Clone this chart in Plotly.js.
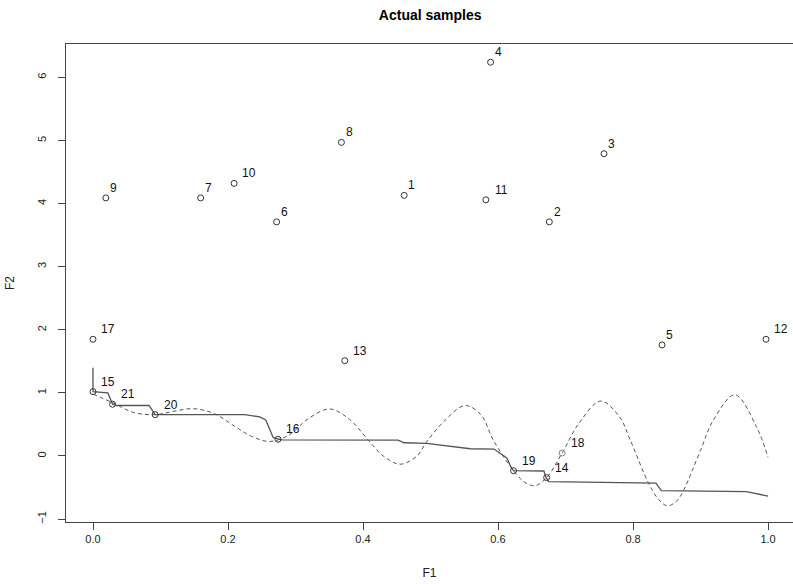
<!DOCTYPE html>
<html>
<head>
<meta charset="utf-8">
<script src="https://cdn.plot.ly/plotly-3.0.1.min.js"></script>
<style>html,body{margin:0;padding:0;background:#fff;overflow:hidden;}#chart{width:793px;height:584px;}</style>
</head>
<body>
<div id="chart"></div>
<script>
// Sample points
const sampleIds = [1,2,3,4,5,6,7,8,9,10,11,12,13,14,15,16,17,18,19,20,21];
const sampleF1 = [0.461,0.676,0.757,0.589,0.843,0.272,0.1595,0.368,0.019,0.209,0.582,0.997,0.373,0.672,0.0,0.274,0.0,0.695,0.623,0.092,0.029];
const sampleF2 = [4.13,3.71,4.79,6.24,1.76,3.71,4.09,4.97,4.09,4.32,4.06,1.85,1.51,-0.343,1.02,0.265,1.85,0.047,-0.233,0.655,0.82];

// Solid (front / step-like) line
const solidX = [0,0,0.022,0.029,0.035,0.083,0.092,0.225,0.247,0.256,0.267,0.274,0.28,0.452,0.461,0.494,0.559,0.594,0.603,0.613,0.62,0.623,0.668,0.671,0.675,0.834,0.842,0.968,1.0];
const solidY = [1.40,1.02,1.00,0.82,0.80,0.80,0.655,0.655,0.62,0.57,0.29,0.265,0.255,0.25,0.21,0.20,0.115,0.11,0.05,-0.03,-0.19,-0.233,-0.238,-0.34,-0.405,-0.43,-0.55,-0.565,-0.635];

// Dashed (fitted) curve
const dashX = [0,0.03,0.06,0.092,0.12,0.149,0.18,0.21,0.235,0.262,0.29,0.32,0.351,0.38,0.408,0.43,0.455,0.48,0.494,0.52,0.551,0.575,0.593,0.623,0.64,0.655,0.672,0.695,0.72,0.752,0.78,0.796,0.823,0.838,0.851,0.865,0.875,0.90,0.919,0.951,0.983,1.0];
const dashY = [0.98,0.84,0.69,0.655,0.71,0.75,0.67,0.47,0.31,0.23,0.33,0.60,0.745,0.58,0.25,0.0,-0.13,0.0,0.22,0.55,0.80,0.65,0.25,-0.233,-0.42,-0.47,-0.343,0.047,0.52,0.87,0.62,0.25,-0.43,-0.69,-0.79,-0.71,-0.54,0.09,0.57,0.97,0.46,-0.02];

const xTicks = [0,0.2,0.4,0.6,0.8,1.0];
const xTickText = ['0.0','0.2','0.4','0.6','0.8','1.0'];
const yTicks = [-1,0,1,2,3,4,5,6];

const FONT = 'Liberation Sans, Arial, Helvetica, sans-serif';
const AX = '#444';

const traces = [
  {x: dashX, y: dashY, mode: 'lines', type: 'scatter', line: {color: '#555', width: 1, dash: '4px,3px', shape: 'spline', smoothing: 1}, hoverinfo: 'skip'},
  {x: solidX, y: solidY, mode: 'lines', type: 'scatter', line: {color: '#555', width: 1.3}, hoverinfo: 'skip'},
  {x: sampleF1, y: sampleF2, mode: 'markers', type: 'scatter',
   marker: {symbol: 'circle-open', size: 6, color: sampleIds.map(i => i === 18 ? '#888' : '#333'), line: {width: 1}}}
];

const annotations = sampleIds.map((id, i) => ({
  x: sampleF1[i], y: sampleF2[i], xref: 'x', yref: 'y',
  text: String(id), showarrow: false,
  xanchor: 'center', yanchor: 'middle',
  xshift: 7.7 * String(id).length, yshift: 10,
  font: {family: FONT, size: 12, color: '#111'}
}));

const layout = {
  width: 793, height: 584,
  margin: {l: 66, r: 0, t: 44, b: 62},
  paper_bgcolor: '#fff', plot_bgcolor: '#fff',
  showlegend: false,
  title: {text: '<b>Actual samples</b>', x: 0.5425, xanchor: 'center', y: 0.975, yanchor: 'middle', font: {family: FONT, size: 14, color: '#000'}},
  xaxis: {
    range: [-0.04, 1.037], tickvals: xTicks, ticktext: xTickText,
    showgrid: false, zeroline: false, showline: true, linecolor: AX, linewidth: 1, mirror: true,
    ticks: 'outside', ticklen: 7, tickcolor: AX, tickwidth: 1,
    tickfont: {family: FONT, size: 11, color: '#222'},
    title: {text: 'F1', font: {family: FONT, size: 12, color: '#222'}, standoff: 24}
  },
  yaxis: {
    range: [-1.046, 6.529], tickvals: yTicks,
    showgrid: false, zeroline: false, showline: true, linecolor: AX, linewidth: 1,
    ticks: 'outside', ticklen: 7, tickcolor: AX, tickwidth: 1, tickangle: -90,
    ticklabelstandoff: 8,
    tickfont: {family: FONT, size: 11, color: '#222'},
    title: {text: 'F2', font: {family: FONT, size: 12, color: '#222'}, standoff: 18}
  },
  annotations: annotations
};

Plotly.newPlot('chart', traces, layout, {staticPlot: true, displayModeBar: false});
</script>
</body>
</html>
